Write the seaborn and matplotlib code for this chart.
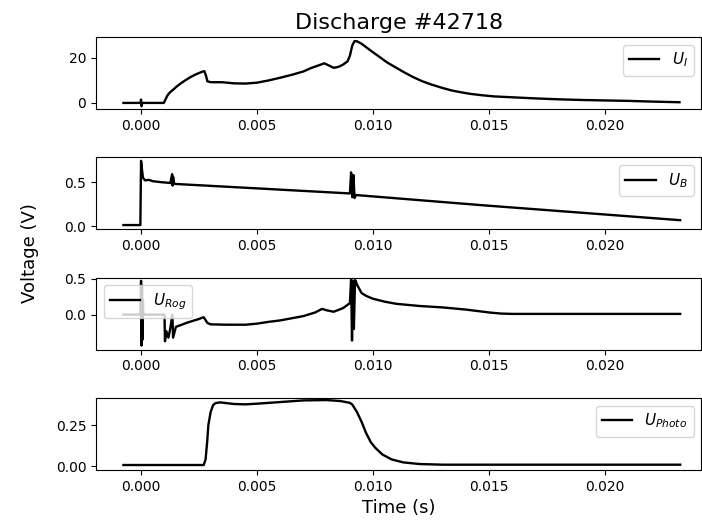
import matplotlib
matplotlib.use("Agg")
import matplotlib.pyplot as plt
import seaborn as sns

# ---------------- data ----------------
t_I = [-0.00076, -0.00003, 0.0, 0.00002, 0.00005, 0.00098, 0.00105, 0.00112, 0.0012,
       0.0013, 0.0014, 0.0015, 0.0017, 0.0019, 0.0021, 0.0023, 0.0025, 0.00265,
       0.00273, 0.0028, 0.00286, 0.003, 0.0035, 0.004, 0.0045, 0.005, 0.0055,
       0.006, 0.0065, 0.007, 0.0073, 0.0076, 0.0079, 0.0081, 0.0083, 0.0085,
       0.0087, 0.0089, 0.009, 0.0091, 0.0092, 0.0093, 0.0095, 0.0099, 0.0102,
       0.0106, 0.011, 0.0113, 0.0117, 0.0121, 0.0125, 0.013, 0.0134, 0.0138,
       0.0142, 0.0147, 0.0152, 0.016, 0.017, 0.018, 0.019, 0.020, 0.021, 0.022,
       0.0232]
u_I = [0.0, 0.0, 1.5, -1.5, 0.0, 0.0, 1.5, 3.0, 4.2,
       5.2, 6.0, 7.0, 8.6, 10.0, 11.3, 12.4, 13.3, 13.9,
       14.1, 12.0, 9.6, 9.2, 9.2, 8.7, 8.6, 9.0, 10.0,
       11.2, 12.5, 14.0, 15.4, 16.5, 17.6, 16.6, 15.6, 16.0,
       17.0, 18.5, 21.0, 25.5, 27.5, 27.4, 26.3, 23.2, 21.0,
       18.0, 15.6, 13.8, 11.6, 9.7, 8.2, 6.6, 5.5, 4.7,
       4.0, 3.4, 2.9, 2.5, 2.0, 1.6, 1.3, 1.1, 0.9, 0.6,
       0.3]

t_B = [-0.00076, -0.00003, 0.0, 0.00008, 0.00017, 0.00034, 0.00051, 0.00084,
       0.00126, 0.00134, 0.00136, 0.00138, 0.00143, 0.00900, 0.00905,
       0.00910, 0.00915, 0.00920, 0.00926, 0.01465, 0.02323]
u_B = [0.015, 0.015, 0.74, 0.55, 0.52, 0.525, 0.51, 0.50,
       0.49, 0.59, 0.46, 0.56, 0.48, 0.372, 0.61,
       0.33, 0.58, 0.32, 0.354, 0.24, 0.07]

t_Rog = [-0.00076, -0.00003, 0.0, 0.00002, 0.00004, 0.00006, 0.00008, 0.0001,
         0.00101, 0.00103, 0.00109, 0.00118, 0.00126, 0.00135, 0.00138,
         0.0015, 0.002, 0.0025, 0.00265, 0.0027, 0.00286, 0.003, 0.0037,
         0.0045, 0.005, 0.0055, 0.006, 0.0065, 0.007, 0.0075, 0.0078, 0.008,
         0.0083, 0.0087, 0.009, 0.00905, 0.00909, 0.00913, 0.00917, 0.00922,
         0.00926, 0.0093, 0.0095, 0.0097, 0.010, 0.0105, 0.011, 0.012, 0.013,
         0.014, 0.015, 0.0155, 0.016, 0.02323]
u_Rog = [0.0, 0.0, 0.47, -0.43, 0.4, -0.35, 0.2, 0.0,
         0.0, -0.37, -0.23, -0.32, -0.19, 0.0, -0.32,
         -0.17, -0.11, -0.06, -0.04, -0.037, -0.116, -0.135, -0.14,
         -0.14, -0.125, -0.10, -0.08, -0.05, -0.02, 0.03, 0.08, 0.06,
         0.04, 0.09, 0.16, 0.49, -0.36, 0.47, -0.2, 0.48,
         0.46, 0.42, 0.30, 0.26, 0.22, 0.18, 0.15, 0.12, 0.10,
         0.07, 0.03, 0.015, 0.01, 0.01]

t_Ph = [-0.00076, 0.0027, 0.00278, 0.00285, 0.0029, 0.003, 0.0031, 0.0032,
        0.0034, 0.004, 0.0045, 0.005, 0.006, 0.007, 0.008, 0.0086, 0.009,
        0.0091, 0.0093, 0.0095, 0.0097, 0.0099, 0.0101, 0.0104, 0.0108,
        0.0113, 0.012, 0.013, 0.02323]
u_Ph = [0.006, 0.006, 0.04, 0.15, 0.25, 0.33, 0.37, 0.383,
        0.388, 0.378, 0.376, 0.38, 0.39, 0.40, 0.402, 0.396, 0.385,
        0.375, 0.33, 0.27, 0.20, 0.145, 0.11, 0.07, 0.04,
        0.022, 0.012, 0.008, 0.008]

labels = [r"$U_I$", r"$U_B$", r"$U_{Rog}$", r"$U_{Photo}$"]
legend_locs = ["upper right", "upper right", "upper left", "upper right"]
ylims = [(-2.7, 29.3), (-0.033, 0.78), (-0.486, 0.514), (-0.024, 0.415)]
yticks = [[0, 20], [0.0, 0.5], [0.0, 0.5], [0.00, 0.25]]
ytick_labels = [["0", "20"], ["0.0", "0.5"], ["0.0", "0.5"], ["0.00", "0.25"]]
xticks = [0.000, 0.005, 0.010, 0.015, 0.020]
xtick_labels = ["0.000", "0.005", "0.010", "0.015", "0.020"]

series = [(t_I, u_I), (t_B, u_B), (t_Rog, u_Rog), (t_Ph, u_Ph)]

# ---------------- figure ----------------
fig, axes = plt.subplots(4, 1, figsize=(7.02, 5.21), dpi=100)
fig.subplots_adjust(left=0.1368, right=0.999, top=0.929, bottom=0.098, hspace=0.671)

for ax, (tt, uu), lab, loc, yl, yt, ytl in zip(axes, series, labels, legend_locs,
                                               ylims, yticks, ytick_labels):
    sns.lineplot(x=tt, y=uu, ax=ax, color="black", linewidth=1.7,
                 sort=False, estimator=None, label=lab)
    ax.set_xlim(-0.00194, 0.02414)
    ax.set_ylim(*yl)
    ax.set_yticks(yt)
    ax.set_yticklabels(ytl)
    ax.set_xticks(xticks)
    ax.set_xticklabels(xtick_labels)
    ax.legend(loc=loc, fontsize=11)
    ax.tick_params(labelsize=10)

axes[0].set_title("Discharge #42718", fontsize=16)
axes[3].set_xlabel("Time (s)", fontsize=13)
fig.text(0.043, 0.514, "Voltage (V)", rotation=90, ha="center", va="center", fontsize=13)

fig.savefig("out.png", dpi=100)
